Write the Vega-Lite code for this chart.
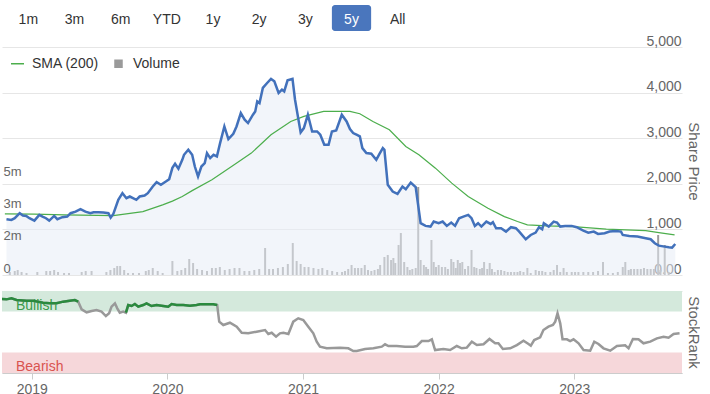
{
 "$schema": "https://vega.github.io/schema/vega-lite/v6.json",
 "padding": {"left": 2, "top": 5, "right": 0, "bottom": 0},
 "background": "white",
 "config": {"font": "Liberation Sans", "view": {"stroke": null}},
 "spacing": 16,
 "bounds": "flush",
 "resolve": {"scale": {"color": "independent"}},
 "datasets": {
  "buttons": [{"b":"1m"},{"b":"3m"},{"b":"6m"},{"b":"YTD"},{"b":"1y"},{"b":"2y"},{"b":"3y"},{"b":"5y","sel":true},{"b":"All"}],
  "price": [
   {"t":2018.776,"p":1224},{"t":2018.813,"p":1208},{"t":2018.838,"p":1245},{"t":2018.875,"p":1355},{"t":2018.899,"p":1303},{"t":2018.924,"p":1296},{"t":2018.948,"p":1245},{"t":2018.985,"p":1193},{"t":2019.022,"p":1318},{"t":2019.046,"p":1281},{"t":2019.072,"p":1245},{"t":2019.096,"p":1193},{"t":2019.133,"p":1296},{"t":2019.157,"p":1224},{"t":2019.194,"p":1268},{"t":2019.231,"p":1281},{"t":2019.256,"p":1355},{"t":2019.293,"p":1391},{"t":2019.330,"p":1443},{"t":2019.367,"p":1391},{"t":2019.404,"p":1355},{"t":2019.428,"p":1377},{"t":2019.465,"p":1377},{"t":2019.502,"p":1369},{"t":2019.539,"p":1355},{"t":2019.556,"p":1259},{"t":2019.576,"p":1340},{"t":2019.613,"p":1648},{"t":2019.644,"p":1794},{"t":2019.674,"p":1685},{"t":2019.699,"p":1721},{"t":2019.723,"p":1685},{"t":2019.748,"p":1648},{"t":2019.773,"p":1721},{"t":2019.810,"p":1742},{"t":2019.834,"p":1794},{"t":2019.871,"p":1940},{"t":2019.900,"p":2036},{"t":2019.932,"p":1977},{"t":2019.969,"p":2049},{"t":2019.994,"p":2102},{"t":2020.018,"p":2350},{"t":2020.038,"p":2438},{"t":2020.063,"p":2330},{"t":2020.092,"p":2526},{"t":2020.105,"p":2636},{"t":2020.137,"p":2746},{"t":2020.166,"p":2636},{"t":2020.186,"p":2379},{"t":2020.210,"p":2160},{"t":2020.235,"p":2379},{"t":2020.260,"p":2453},{"t":2020.277,"p":2673},{"t":2020.301,"p":2563},{"t":2020.326,"p":2636},{"t":2020.351,"p":2599},{"t":2020.375,"p":2892},{"t":2020.407,"p":3258},{"t":2020.437,"p":2980},{"t":2020.474,"p":3097},{"t":2020.498,"p":3258},{"t":2020.530,"p":3552},{"t":2020.559,"p":3405},{"t":2020.584,"p":3332},{"t":2020.621,"p":3515},{"t":2020.638,"p":3588},{"t":2020.653,"p":3807},{"t":2020.670,"p":3771},{"t":2020.695,"p":4102},{"t":2020.727,"p":4211},{"t":2020.756,"p":4299},{"t":2020.781,"p":4247},{"t":2020.813,"p":3991},{"t":2020.838,"p":4064},{"t":2020.855,"p":4027},{"t":2020.880,"p":4269},{"t":2020.917,"p":4299},{"t":2020.936,"p":3844},{"t":2020.978,"p":3126},{"t":2021.002,"p":3222},{"t":2021.032,"p":3515},{"t":2021.064,"p":3148},{"t":2021.101,"p":3148},{"t":2021.125,"p":3076},{"t":2021.155,"p":2856},{"t":2021.187,"p":2856},{"t":2021.212,"p":3148},{"t":2021.244,"p":3170},{"t":2021.286,"p":3515},{"t":2021.322,"p":3368},{"t":2021.347,"p":3200},{"t":2021.371,"p":3112},{"t":2021.396,"p":3076},{"t":2021.421,"p":3039},{"t":2021.440,"p":2783},{"t":2021.470,"p":2673},{"t":2021.507,"p":2658},{"t":2021.544,"p":2526},{"t":2021.568,"p":2658},{"t":2021.593,"p":2783},{"t":2021.605,"p":2746},{"t":2021.630,"p":1977},{"t":2021.667,"p":1830},{"t":2021.703,"p":1779},{"t":2021.740,"p":1940},{"t":2021.765,"p":1882},{"t":2021.802,"p":2028},{"t":2021.839,"p":1926},{"t":2021.876,"p":1136},{"t":2021.913,"p":1077},{"t":2021.950,"p":1062},{"t":2021.974,"p":1172},{"t":2022.011,"p":1136},{"t":2022.041,"p":1172},{"t":2022.072,"p":1077},{"t":2022.105,"p":1150},{"t":2022.134,"p":1077},{"t":2022.164,"p":1245},{"t":2022.196,"p":1281},{"t":2022.232,"p":1318},{"t":2022.257,"p":1245},{"t":2022.282,"p":1077},{"t":2022.306,"p":1136},{"t":2022.331,"p":1062},{"t":2022.368,"p":1172},{"t":2022.400,"p":1120},{"t":2022.417,"p":1158},{"t":2022.441,"p":1026},{"t":2022.478,"p":1026},{"t":2022.515,"p":952},{"t":2022.552,"p":1048},{"t":2022.589,"p":1026},{"t":2022.614,"p":952},{"t":2022.663,"p":784},{"t":2022.700,"p":878},{"t":2022.737,"p":929},{"t":2022.762,"p":1048},{"t":2022.786,"p":1004},{"t":2022.798,"p":1136},{"t":2022.835,"p":1062},{"t":2022.872,"p":1172},{"t":2022.897,"p":1150},{"t":2022.921,"p":1062},{"t":2022.958,"p":1077},{"t":2023.007,"p":1077},{"t":2023.044,"p":1048},{"t":2023.094,"p":974},{"t":2023.131,"p":929},{"t":2023.172,"p":952},{"t":2023.204,"p":900},{"t":2023.253,"p":915},{"t":2023.290,"p":952},{"t":2023.339,"p":966},{"t":2023.376,"p":952},{"t":2023.389,"p":878},{"t":2023.438,"p":857},{"t":2023.499,"p":842},{"t":2023.561,"p":805},{"t":2023.598,"p":784},{"t":2023.629,"p":696},{"t":2023.659,"p":644},{"t":2023.703,"p":622},{"t":2023.733,"p":607},{"t":2023.758,"p":600},{"t":2023.782,"p":680}
  ],
  "sma": [
   {"t":2018.764,"p":1340},{"t":2018.985,"p":1335},{"t":2019.207,"p":1318},{"t":2019.576,"p":1303},{"t":2019.797,"p":1391},{"t":2019.945,"p":1538},{"t":2020.018,"p":1620},{"t":2020.092,"p":1720},{"t":2020.166,"p":1850},{"t":2020.314,"p":2087},{"t":2020.461,"p":2379},{"t":2020.609,"p":2673},{"t":2020.756,"p":3076},{"t":2020.904,"p":3368},{"t":2021.002,"p":3478},{"t":2021.150,"p":3588},{"t":2021.347,"p":3588},{"t":2021.421,"p":3537},{"t":2021.519,"p":3368},{"t":2021.642,"p":3185},{"t":2021.765,"p":2818},{"t":2021.863,"p":2636},{"t":2021.987,"p":2343},{"t":2022.109,"p":2014},{"t":2022.232,"p":1721},{"t":2022.380,"p":1465},{"t":2022.503,"p":1281},{"t":2022.601,"p":1172},{"t":2022.675,"p":1098},{"t":2022.823,"p":1077},{"t":2023.020,"p":1062},{"t":2023.266,"p":1004},{"t":2023.561,"p":974},{"t":2023.659,"p":929},{"t":2023.777,"p":878}
  ],
  "vol": [
   {"t":2018.801,"v":155000},{"t":2018.838,"v":207000},{"t":2018.860,"v":259000},{"t":2018.889,"v":155000},{"t":2018.926,"v":103000},{"t":2019.007,"v":155000},{"t":2019.074,"v":207000},{"t":2019.103,"v":207000},{"t":2019.133,"v":259000},{"t":2019.162,"v":155000},{"t":2019.207,"v":103000},{"t":2019.244,"v":103000},{"t":2019.339,"v":155000},{"t":2019.369,"v":207000},{"t":2019.413,"v":207000},{"t":2019.524,"v":155000},{"t":2019.554,"v":259000},{"t":2019.583,"v":362000},{"t":2019.605,"v":465000},{"t":2019.627,"v":465000},{"t":2019.657,"v":259000},{"t":2019.686,"v":103000},{"t":2019.723,"v":103000},{"t":2019.768,"v":103000},{"t":2019.819,"v":207000},{"t":2019.841,"v":259000},{"t":2019.871,"v":362000},{"t":2019.908,"v":207000},{"t":2019.945,"v":103000},{"t":2020.018,"v":724000},{"t":2020.055,"v":207000},{"t":2020.085,"v":259000},{"t":2020.114,"v":362000},{"t":2020.144,"v":827000},{"t":2020.173,"v":620000},{"t":2020.203,"v":310000},{"t":2020.240,"v":259000},{"t":2020.277,"v":207000},{"t":2020.314,"v":362000},{"t":2020.343,"v":362000},{"t":2020.373,"v":414000},{"t":2020.410,"v":259000},{"t":2020.446,"v":310000},{"t":2020.483,"v":362000},{"t":2020.520,"v":362000},{"t":2020.557,"v":207000},{"t":2020.594,"v":207000},{"t":2020.631,"v":259000},{"t":2020.668,"v":310000},{"t":2020.712,"v":1396000},{"t":2020.742,"v":310000},{"t":2020.771,"v":310000},{"t":2020.808,"v":362000},{"t":2020.845,"v":414000},{"t":2020.882,"v":569000},{"t":2020.919,"v":1654000},{"t":2020.948,"v":724000},{"t":2020.978,"v":569000},{"t":2021.007,"v":414000},{"t":2021.037,"v":414000},{"t":2021.074,"v":362000},{"t":2021.111,"v":310000},{"t":2021.140,"v":362000},{"t":2021.177,"v":259000},{"t":2021.214,"v":207000},{"t":2021.251,"v":155000},{"t":2021.288,"v":155000},
   {"t":2021.310,"v":207000},{"t":2021.334,"v":310000},{"t":2021.359,"v":517000},{"t":2021.384,"v":362000},{"t":2021.408,"v":362000},{"t":2021.433,"v":362000},{"t":2021.458,"v":517000},{"t":2021.482,"v":259000},{"t":2021.507,"v":207000},{"t":2021.531,"v":259000},{"t":2021.556,"v":310000},{"t":2021.573,"v":517000},{"t":2021.605,"v":931000},{"t":2021.630,"v":1034000},{"t":2021.655,"v":776000},{"t":2021.672,"v":879000},{"t":2021.686,"v":620000},{"t":2021.711,"v":1551000},{"t":2021.728,"v":2171000},{"t":2021.753,"v":672000},{"t":2021.777,"v":414000},{"t":2021.795,"v":259000},{"t":2021.814,"v":310000},{"t":2021.839,"v":362000},{"t":2021.858,"v":4550000},{"t":2021.876,"v":776000},{"t":2021.900,"v":517000},{"t":2021.917,"v":414000},{"t":2021.932,"v":310000},{"t":2021.957,"v":1810000},{"t":2021.974,"v":672000},{"t":2021.991,"v":414000},{"t":2022.011,"v":517000},{"t":2022.035,"v":414000},{"t":2022.060,"v":414000},{"t":2022.080,"v":310000},{"t":2022.105,"v":827000},{"t":2022.122,"v":672000},{"t":2022.139,"v":362000},{"t":2022.154,"v":776000},{"t":2022.171,"v":620000},{"t":2022.188,"v":672000},{"t":2022.208,"v":310000},{"t":2022.232,"v":465000},{"t":2022.257,"v":1293000},{"t":2022.277,"v":414000},{"t":2022.294,"v":362000},{"t":2022.319,"v":310000},{"t":2022.336,"v":362000},{"t":2022.351,"v":672000},{"t":2022.375,"v":310000},{"t":2022.393,"v":620000},{"t":2022.410,"v":310000},{"t":2022.430,"v":155000},{"t":2022.454,"v":259000},{"t":2022.478,"v":259000},{"t":2022.503,"v":207000},{"t":2022.528,"v":155000},{"t":2022.552,"v":155000},{"t":2022.577,"v":155000},{"t":2022.601,"v":155000},{"t":2022.621,"v":207000},{"t":2022.646,"v":155000},{"t":2022.675,"v":362000},{"t":2022.700,"v":103000},{"t":2022.737,"v":259000},{"t":2022.762,"v":207000},{"t":2022.786,"v":207000},{"t":2022.810,"v":155000},{"t":2022.847,"v":155000},{"t":2022.872,"v":259000},{"t":2022.897,"v":517000},{"t":2022.921,"v":155000},{"t":2022.946,"v":362000},{"t":2022.970,"v":155000},{"t":2023.007,"v":155000},{"t":2023.032,"v":155000},{"t":2023.057,"v":155000},{"t":2023.094,"v":155000},{"t":2023.131,"v":155000},{"t":2023.167,"v":155000},{"t":2023.204,"v":207000},{"t":2023.241,"v":672000},{"t":2023.278,"v":103000},{"t":2023.315,"v":103000},{"t":2023.352,"v":155000},{"t":2023.389,"v":414000},{"t":2023.408,"v":672000},{"t":2023.433,"v":259000},{"t":2023.450,"v":310000},{"t":2023.474,"v":310000},{"t":2023.499,"v":310000},{"t":2023.524,"v":310000},{"t":2023.548,"v":362000},{"t":2023.573,"v":310000},{"t":2023.598,"v":310000},{"t":2023.622,"v":310000},{"t":2023.654,"v":2068000},{"t":2023.671,"v":259000},{"t":2023.703,"v":1551000},{"t":2023.733,"v":155000}
  ],
  "bands": [{"zone":"Bullish","lo":75,"hi":100},{"zone":"Bearish","lo":0,"hi":25}],
  "rank": [
   {"t":2018.776,"r":90.2,"g":1},{"t":2018.813,"r":89.8,"g":1},{"t":2018.850,"r":91,"g":1},{"t":2018.887,"r":89,"g":1},{"t":2018.961,"r":88.2,"g":1},{"t":2019.010,"r":88.2,"g":1},{"t":2019.083,"r":85.7,"g":1},{"t":2019.133,"r":85,"g":1},{"t":2019.182,"r":85,"g":1},{"t":2019.231,"r":87,"g":1},{"t":2019.280,"r":88.2,"g":1},{"t":2019.317,"r":89,"g":1},{"t":2019.342,"r":87,"g":1},
   {"t":2019.367,"r":77.7},{"t":2019.404,"r":74},{"t":2019.441,"r":75.6},{"t":2019.477,"r":76.8},{"t":2019.514,"r":74.8},{"t":2019.546,"r":69.5},{"t":2019.570,"r":72.8},{"t":2019.588,"r":80.9},{"t":2019.613,"r":85},{"t":2019.630,"r":78.9},{"t":2019.649,"r":73.5},{"t":2019.674,"r":74.8},
   {"t":2019.694,"r":73.5,"g":2},{"t":2019.711,"r":82.9,"g":2},{"t":2019.736,"r":81.7,"g":2},{"t":2019.760,"r":84.1,"g":2},{"t":2019.785,"r":80.9,"g":2},{"t":2019.821,"r":82.9,"g":2},{"t":2019.846,"r":85,"g":2},{"t":2019.883,"r":81.7,"g":2},{"t":2019.920,"r":82.9,"g":2},{"t":2019.969,"r":81.7,"g":2},{"t":2020.006,"r":80.9,"g":2},{"t":2020.031,"r":84.1,"g":2},{"t":2020.068,"r":82.9,"g":2},{"t":2020.117,"r":82.9,"g":2},{"t":2020.166,"r":82.1,"g":2},{"t":2020.215,"r":82.9,"g":2},{"t":2020.240,"r":83.8,"g":2},{"t":2020.338,"r":83.8,"g":2},{"t":2020.367,"r":82.9,"g":2},
   {"t":2020.382,"r":62.6},{"t":2020.412,"r":58.5},{"t":2020.461,"r":61.3},{"t":2020.511,"r":56.5},{"t":2020.548,"r":49.1},{"t":2020.596,"r":48.4},{"t":2020.658,"r":50.4},{"t":2020.720,"r":52.4},{"t":2020.744,"r":47.6},{"t":2020.769,"r":49.1},{"t":2020.801,"r":44.3},{"t":2020.830,"r":48.4},{"t":2020.855,"r":49.1},{"t":2020.892,"r":47.6},{"t":2020.928,"r":62.6},{"t":2020.965,"r":66.7},{"t":2021.002,"r":64.6},{"t":2021.039,"r":56.5},{"t":2021.076,"r":48.4},{"t":2021.101,"r":38.2},{"t":2021.125,"r":32.1},{"t":2021.175,"r":30.1},{"t":2021.273,"r":30.9},{"t":2021.334,"r":30.1},{"t":2021.371,"r":26.8},{"t":2021.396,"r":26.8},{"t":2021.458,"r":29.3},{"t":2021.519,"r":30.1},{"t":2021.581,"r":32.1},{"t":2021.605,"r":35},{"t":2021.630,"r":32.9},{"t":2021.691,"r":32.9},{"t":2021.753,"r":32.1},{"t":2021.814,"r":32.1},{"t":2021.839,"r":32.9},{"t":2021.876,"r":39},{"t":2021.925,"r":39},{"t":2021.950,"r":41.1},{"t":2021.974,"r":28},{"t":2022.035,"r":29.3},{"t":2022.085,"r":28},{"t":2022.134,"r":32.9},{"t":2022.171,"r":30.1},{"t":2022.208,"r":30.9},{"t":2022.245,"r":38.2},{"t":2022.282,"r":34.1},{"t":2022.331,"r":35},{"t":2022.375,"r":41.5},{"t":2022.417,"r":36.2},{"t":2022.441,"r":36.2},{"t":2022.474,"r":29.3},{"t":2022.528,"r":30.1},{"t":2022.577,"r":34.1},{"t":2022.626,"r":39.4},{"t":2022.663,"r":35.4},{"t":2022.680,"r":33.3},{"t":2022.705,"r":40.2},{"t":2022.749,"r":43.5},{"t":2022.773,"r":52.4},{"t":2022.810,"r":56.5},{"t":2022.843,"r":58.5},{"t":2022.860,"r":62.6},{"t":2022.877,"r":72.8},{"t":2022.897,"r":60.6},{"t":2022.914,"r":41.1},{"t":2022.946,"r":41.1},{"t":2022.970,"r":39},{"t":2022.995,"r":41.1},{"t":2023.032,"r":36.2},{"t":2023.069,"r":28},{"t":2023.118,"r":27.2},{"t":2023.148,"r":38.2},{"t":2023.179,"r":35.4},{"t":2023.216,"r":30.1},{"t":2023.266,"r":27.2},{"t":2023.315,"r":32.9},{"t":2023.376,"r":33.8},{"t":2023.401,"r":30.1},{"t":2023.433,"r":41.5},{"t":2023.474,"r":41.1},{"t":2023.511,"r":36.2},{"t":2023.561,"r":38.2},{"t":2023.610,"r":42.3},{"t":2023.659,"r":44.3},{"t":2023.696,"r":43},{"t":2023.733,"r":47.6},{"t":2023.777,"r":48.4}
  ]
 },
 "vconcat": [
  {
   "width": 422, "height": 26,
   "data": {"name": "buttons"},
   "layer": [
    {
     "transform": [{"filter": "datum.sel"}],
     "mark": {"type": "bar", "color": "#4a76bd", "cornerRadius": 3, "width": {"band": 0.85}},
     "encoding": {
      "x": {"field": "b", "type": "nominal", "sort": null, "scale": {"domain": ["1m","3m","6m","YTD","1y","2y","3y","5y","All"], "paddingInner": 0, "paddingOuter": 0.07}, "axis": null}
     }
    },
    {
     "mark": {"type": "text", "fontSize": 14, "baseline": "middle", "dy": 1.5},
     "encoding": {
      "x": {"field": "b", "type": "nominal", "sort": null, "scale": {"domain": ["1m","3m","6m","YTD","1y","2y","3y","5y","All"], "paddingInner": 0, "paddingOuter": 0.07}, "axis": null},
      "text": {"field": "b"},
      "color": {"condition": {"test": "datum.sel", "value": "#ffffff"}, "value": "#333333"}
     }
    }
   ]
  },
  {
   "width": 680, "height": 228,
   "layer": [
    {
     "data": {"name": "vol"},
     "mark": {"type": "bar", "width": 2, "clip": true},
     "encoding": {
      "x": {"field": "t", "type": "quantitative", "scale": {"domain": [2018.78, 2023.795], "nice": false, "zero": false}, "axis": null},
      "y": {"field": "v", "type": "quantitative", "scale": {"domain": [0, 11790000], "nice": false},
       "axis": {"orient": "left", "zindex": 1, "values": [0, 1666667, 3333333, 5000000], "labelExpr": "datum.value == 0 ? '0' : format(datum.value / 1000000, '.0f') + 'm'", "grid": false, "ticks": false, "tickSize": 0, "domain": false, "labelAlign": "left", "labelPadding": -1, "labelBaseline": "alphabetic", "labelOffset": -3, "labelFontSize": 13, "labelColor": "#666666", "title": null}},
      "color": {"datum": "Volume", "scale": {"domain": ["SMA (200)", "Volume"], "range": ["#4cae4c", "#9a9a9a"]},
       "legend": {"orient": "none", "legendX": 8, "legendY": 9, "direction": "horizontal", "title": null, "labelFontSize": 14, "labelColor": "#333333", "symbolType": "square", "symbolSize": 120, "columnPadding": 12, "labelOffset": 7,
        "encode": {"symbols": {"update": {
          "shape": {"signal": "datum.label === 'Volume' ? 'square' : 'stroke'"},
          "size": {"signal": "datum.label === 'Volume' ? 49 : 169"},
          "stroke": {"signal": "datum.label === 'Volume' ? 'transparent' : '#4cae4c'"},
          "fill": {"signal": "datum.label === 'Volume' ? '#aaaaaa' : 'transparent'"},
          "strokeWidth": {"value": 1.5}
        }}}}}
     }
    },
    {
     "layer": [
      {
       "data": {"name": "price"},
       "mark": {"type": "area", "color": "#e8ecf6", "opacity": 0.55, "clip": true},
       "encoding": {
        "x": {"field": "t", "type": "quantitative", "scale": {"domain": [2018.78, 2023.795], "nice": false, "zero": false}, "axis": null},
        "y": {"field": "p", "type": "quantitative", "scale": {"domain": [0, 5000], "nice": false},
         "axis": {"orient": "right", "values": [0, 1000, 2000, 3000, 4000, 5000], "grid": true, "gridColor": "#e6e6e6", "ticks": false, "tickSize": 0, "domain": false, "labelAlign": "right", "labelPadding": -1, "labelBaseline": "alphabetic", "labelOffset": -2, "labelFontSize": 14, "labelColor": "#666666", "labelExpr": "datum.value == 0 ? '0.00' : format(datum.value, ',')", "title": "Share Price", "titleFontSize": 15, "titleColor": "#666666", "titleFontWeight": "normal", "titlePadding": 3}}
       }
      },
      {
       "data": {"name": "sma"},
       "mark": {"type": "line", "strokeWidth": 1.2, "clip": true},
       "encoding": {
        "x": {"field": "t", "type": "quantitative"},
        "y": {"field": "p", "type": "quantitative"},
        "color": {"datum": "SMA (200)"}
       }
      },
      {
       "data": {"name": "price"},
       "mark": {"type": "line", "color": "#4271bb", "strokeWidth": 2.5, "clip": true},
       "encoding": {
        "x": {"field": "t", "type": "quantitative"},
        "y": {"field": "p", "type": "quantitative"}
       }
      }
     ]
    }
   ],
   "resolve": {"scale": {"y": "independent"}}
  },
  {
   "width": 680, "height": 82,
   "layer": [
    {
     "data": {"name": "bands"},
     "mark": {"type": "rect"},
     "encoding": {
      "x": {"datum": 2018.78, "type": "quantitative"},
      "x2": {"datum": 2023.795},
      "y": {"field": "lo", "type": "quantitative", "scale": {"domain": [0, 100], "nice": false},
       "axis": {"orient": "right", "values": [0, 100], "grid": true, "gridColor": "#e0e0e0", "ticks": false, "tickSize": 0, "domain": false, "labelExpr": "datum.value == 0 ? '0' : ''", "labelAlign": "right", "labelPadding": -4, "labelBaseline": "alphabetic", "labelOffset": -4, "labelFontSize": 14, "labelColor": "#666666", "title": "StockRank", "titleFontSize": 15, "titleColor": "#666666", "titleFontWeight": "normal", "titlePadding": 3}},
      "y2": {"field": "hi"},
      "color": {"condition": {"test": "datum.zone === 'Bullish'", "value": "#d4e9dc"}, "value": "#f6d7da"}
     }
    },
    {
     "data": {"name": "bands"},
     "mark": {"type": "text", "align": "left", "baseline": "alphabetic", "dx": 14, "dy": -2, "fontSize": 14},
     "encoding": {
      "x": {"datum": 2018.78, "type": "quantitative"},
      "y": {"field": "lo", "type": "quantitative"},
      "text": {"field": "zone"},
      "color": {"condition": {"test": "datum.zone === 'Bullish'", "value": "#3a9a4a"}, "value": "#d9534f"}
     }
    },
    {
     "data": {"name": "rank"},
     "mark": {"type": "line", "color": "#999999", "strokeWidth": 2.5, "clip": true},
     "encoding": {
      "x": {"field": "t", "type": "quantitative", "scale": {"domain": [2018.78, 2023.795], "nice": false, "zero": false},
       "axis": {"values": [2019, 2020, 2021, 2022, 2023], "format": "d", "grid": false, "tickColor": "#cccccc", "tickSize": 6, "domainColor": "#cccccc", "labelColor": "#666666", "labelFontSize": 14, "labelPadding": 3, "labelFlush": false, "title": null}},
      "y": {"field": "r", "type": "quantitative"}
     }
    },
    {
     "data": {"name": "rank"},
     "transform": [{"filter": "isValid(datum.g)"}],
     "mark": {"type": "line", "color": "#2a8a3e", "strokeWidth": 2.5, "clip": true},
     "encoding": {
      "x": {"field": "t", "type": "quantitative"},
      "y": {"field": "r", "type": "quantitative"},
      "detail": {"field": "g", "type": "nominal"}
     }
    }
   ]
  }
 ]
}
